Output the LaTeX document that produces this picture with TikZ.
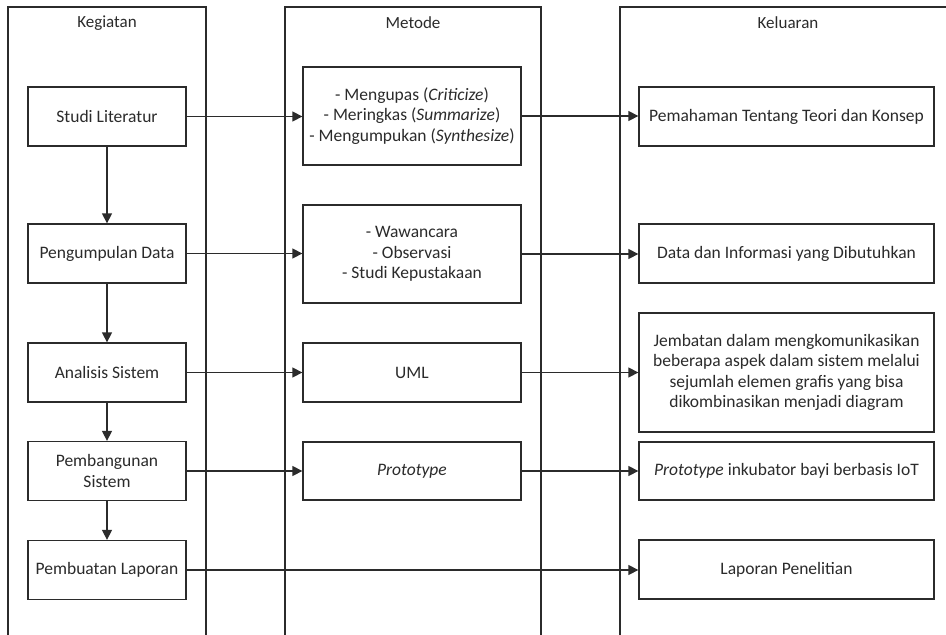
\documentclass[tikz,border=0pt]{standalone}
\usepackage{fontspec}
\setmainfont{Carlito}
\usetikzlibrary{arrows.meta}
\definecolor{ink}{HTML}{2B2B2B}
\begin{document}
\begin{tikzpicture}[x=1pt,y=-1pt,
  box/.style={draw=ink, line width=1.3pt, text=ink, align=center, inner sep=0pt,
    font=\fontsize{17.5}{20.5}\selectfont},
  lbox/.style={box, minimum width=158pt, minimum height=59pt},
  mbox/.style={box, minimum width=218pt},
  rbox/.style={box, minimum width=295pt},
  title/.style={text=ink, font=\fontsize{17}{20}\selectfont, inner sep=0pt},
  col/.style={draw=ink, line width=1.3pt},
  arr/.style={draw=ink, line width=1.3pt, -{Triangle[length=10pt,width=10pt]}}
]
\useasboundingbox (0,0) rectangle (946,635);
\fill[white] (0,0) rectangle (946,635);
% columns
\draw[col] (8,635) -- (8,7) -- (206,7) -- (206,635);
\draw[col] (285,635) -- (285,7) -- (541,7) -- (541,635);
\draw[col] (620,635) -- (620,7) -- (946,7);
\node[title] (t1) at (107,23) {Kegiatan};
\node[title] (t2) at (413,23) {Metode};
\node[title] (t3) at (788,23) {Keluaran};
% left
\node[lbox] (s1) at (107,116.5) {Studi Literatur};
\node[lbox] (s2) at (107,253.5) {Pengumpulan Data};
\node[lbox] (s3) at (107,372.5) {Analisis Sistem};
\node[lbox] (s4) at (107,471) {Pembangunan\\Sistem};
\node[lbox] (s5) at (107,570) {Pembuatan Laporan};
% middle
\node[mbox, minimum height=98pt] (m1) at (412,116) {- Mengupas (\textit{Criticize})\\- Meringkas (\textit{Summarize})\\- Mengumpukan (\textit{Synthesize})};
\node[mbox, minimum height=98pt] (m2) at (412,254) {- Wawancara\\- Observasi\\- Studi Kepustakaan};
\node[mbox, minimum height=59pt] (m3) at (412,372.5) {UML};
\node[mbox, minimum height=58pt] (m4) at (412,471) {\textit{Prototype}};
% right
\node[rbox, minimum height=59pt] (k1) at (786.5,116.5) {Pemahaman Tentang Teori dan Konsep};
\node[rbox, minimum height=59pt] (k2) at (786.5,253.5) {Data dan Informasi yang Dibutuhkan};
\node[rbox, minimum height=119pt] (k3) at (786.5,372.5) {Jembatan dalam mengkomunikasikan\\beberapa aspek dalam sistem melalui\\sejumlah elemen grafis yang bisa\\dikombinasikan menjadi diagram};
\node[rbox, minimum height=58pt] (k4) at (786.5,471) {\textit{Prototype} inkubator bayi berbasis IoT};
\node[rbox, minimum height=59pt] (k5) at (786.5,569.5) {Laporan Penelitian};
% down arrows
\draw[arr] (s1.south) -- (s2.north);
\draw[arr] (s2.south) -- (s3.north);
\draw[arr] (s3.south) -- (s4.north);
\draw[arr] (s4.south) -- (s5.north);
% horizontal arrows
\draw[arr] (s1.east) -- (s1.east -| m1.west);
\draw[arr] (s2.east) -- (s2.east -| m2.west);
\draw[arr] (s3.east) -- (s3.east -| m3.west);
\draw[arr] (s4.east) -- (s4.east -| m4.west);
\draw[arr] (m1.east) -- (m1.east -| k1.west);
\draw[arr] (m2.east) -- (m2.east -| k2.west);
\draw[arr] (m3.east) -- (m3.east -| k3.west);
\draw[arr] (m4.east) -- (m4.east -| k4.west);
\draw[arr] (s5.east) -- (s5.east -| k5.west);
\end{tikzpicture}
\end{document}
